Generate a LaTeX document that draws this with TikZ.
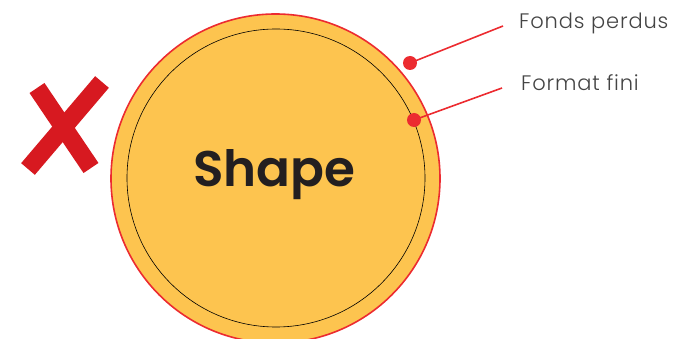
\documentclass[tikz,border=0pt]{standalone}
\usepackage{fontspec}
\setmainfont{Poppins}
\newfontfamily\shapefont{Poppins SemiBold}
\newfontfamily\labelfont[LetterSpace=4]{Poppins Light}
\definecolor{fillyel}{HTML}{FDC44F}
\definecolor{edgered}{HTML}{EC2B30}
\definecolor{xred}{HTML}{D71920}
\definecolor{txtdark}{HTML}{231F20}
\definecolor{txtgray}{HTML}{444444}
\tikzset{
  callout/.style={draw=edgered, line width=1.6pt},
  dotmark/.style={circle, fill=edgered, inner sep=0pt, minimum size=14pt},
  lbl/.style={anchor=base west, inner sep=0pt, text=txtgray, font=\labelfont\fontsize{21}{21}\selectfont},
  xstroke/.style={draw=xred, line width=18pt, line cap=butt}
}
\begin{document}
\begin{tikzpicture}[x=1pt,y=-1pt]
\useasboundingbox (0,0) rectangle (673,339);
% main shape
\node (outer) [circle, draw=edgered, line width=1.6pt, fill=fillyel, minimum size=329pt, inner sep=0pt] at (275.5,178.5) {};
\node (inner) [circle, draw=black, line width=0.6pt, minimum size=298pt, inner sep=0pt] at (276,178) {};
\node (shape) [text=txtdark, font=\shapefont\fontsize{50}{50}\selectfont, anchor=base, inner sep=0pt] at (274.5,187) {Shape};
% callouts
\node (d1) [dotmark] at (410,63) {};
\node (d2) [dotmark] at (414,120) {};
\coordinate (e1) at (503,26);
\coordinate (e2) at (502,88);
\draw[callout] (d1.center) -- (e1);
\draw[callout] (d2.center) -- (e2);
\node (l1) [lbl] at (519,29) {Fonds perdus};
\node (l2) [lbl] at (521,91) {Format fini};
% red cross
\coordinate (xa1) at (37,88);
\coordinate (xa2) at (91,168);
\coordinate (xb1) at (102,82);
\coordinate (xb2) at (28,169);
\draw[xstroke] (xa1) -- (xa2);
\draw[xstroke] (xb1) -- (xb2);
\end{tikzpicture}
\end{document}
